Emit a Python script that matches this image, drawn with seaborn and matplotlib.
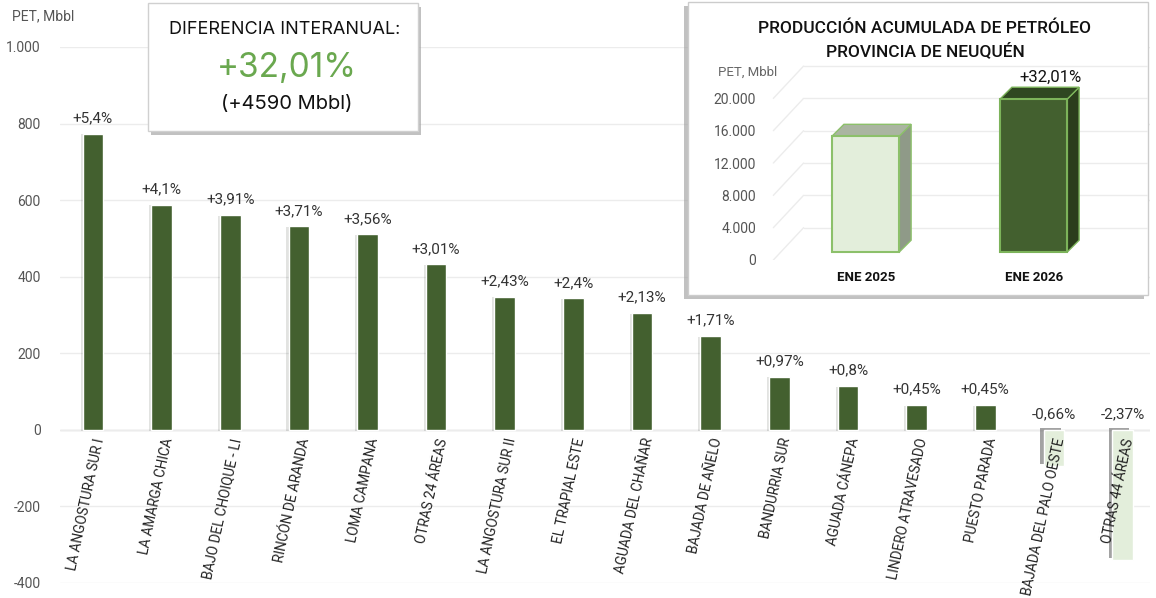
import numpy as np
import pandas as pd
import matplotlib
matplotlib.use("Agg")
import matplotlib.pyplot as plt
import matplotlib.patheffects as pe
from matplotlib.patches import Rectangle, Polygon
from matplotlib.ticker import FuncFormatter
import seaborn as sns

# --- datos ---
areas = ["LA ANGOSTURA SUR I", "LA AMARGA CHICA", "BAJO DEL CHOIQUE - LI", "RINCÓN DE ARANDA",
         "LOMA CAMPANA", "OTRAS 24 ÁREAS", "LA ANGOSTURA SUR II", "EL TRAPIAL ESTE",
         "AGUADA DEL CHAÑAR", "BAJADA DE AÑELO", "BANDURRIA SUR", "AGUADA CÁNEPA",
         "LINDERO ATRAVESADO", "PUESTO PARADA", "BAJADA DEL PALO OESTE", "OTRAS 44 ÁREAS"]
diff_mbbl = [774, 588, 561, 532, 511, 432, 348, 344, 305, 245, 139, 115, 65, 65, -95, -340]
pct_labels = ["+5,4%", "+4,1%", "+3,91%", "+3,71%", "+3,56%", "+3,01%", "+2,43%", "+2,4%",
              "+2,13%", "+1,71%", "+0,97%", "+0,8%", "+0,45%", "+0,45%", "-0,66%", "-2,37%"]
y_ticks = [-400, -200, 0, 200, 400, 600, 800, 1000]

periodos = ["ENE 2025", "ENE 2026"]
acumulada = [14339, 18929]
inset_ticks = [0, 4000, 8000, 12000, 16000, 20000]

DARK = "#43602f"
LIGHT = "#e3eedb"

def miles(v, pos=None):
    return f"{int(v):,}".replace(",", ".")

sns.set_theme(style="white")
plt.rcParams["font.family"] = ["Roboto", "DejaVu Sans"]

fig = plt.figure(figsize=(11.56, 5.98), dpi=100)
W, H = 1156, 598

# --- grafico principal ---
ax = fig.add_axes([60 / W, 1 - 583 / H, 1090 / W, 536 / H])
df = pd.DataFrame({"area": areas, "diff": diff_mbbl})
colores = [DARK if v >= 0 else LIGHT for v in diff_mbbl]
sns.barplot(data=df, x="area", y="diff", hue="area", palette=colores, legend=False,
            width=0.3, ax=ax, saturation=1)
for p, v in zip(ax.patches, diff_mbbl):
    if v >= 0:
        p.set_path_effects([pe.SimplePatchShadow(offset=(-1.5, -0.5), alpha=0.12), pe.Normal()])
    else:
        p.set_path_effects([pe.SimplePatchShadow(offset=(-2.5, 1.5), shadow_rgbFace="#666666", alpha=0.6),
                            pe.Normal()])

ax.set_ylim(-400, 1000)
ax.set_xlim(-0.48, 15.4)
ax.set_yticks(y_ticks)
ax.yaxis.set_major_formatter(FuncFormatter(miles))
ax.tick_params(axis="y", length=0, pad=14, labelsize=10, labelcolor="#555555")
ax.set_xticks([])
ax.set_xlabel("")
ax.set_ylabel("")
ax.grid(axis="y", color="#ececec", linewidth=1)
ax.set_axisbelow(True)
for s in ax.spines.values():
    s.set_visible(False)
ax.axhline(0, color="#d9d9d9", linewidth=1, zorder=0.5)

for i, (v, t) in enumerate(zip(diff_mbbl, pct_labels)):
    ax.annotate(t, (i, max(v, 0)), xytext=(0, 6), textcoords="offset points",
                ha="center", va="bottom", fontsize=11, color="#333333")
    ax.text(i + 0.1, -22, areas[i], rotation=78, rotation_mode="anchor",
            ha="right", va="center", fontsize=9.8, color="#222222")

fig.text(12 / W, 1 - 16 / H, "PET, Mbbl", fontsize=10, color="#555555", va="center")

# --- recuadro diferencia interanual ---
sombra = [pe.SimplePatchShadow(offset=(2, -3), shadow_rgbFace="#999999", alpha=0.6), pe.Normal()]
box1 = Rectangle((148 / W, 1 - 131 / H), 270 / W, 128 / H, transform=fig.transFigure,
                 facecolor="white", edgecolor="#d0d0d0", linewidth=1, zorder=2)
box1.set_path_effects(sombra)
fig.patches.append(box1)
fig.text(285 / W, 1 - 30 / H, "DIFERENCIA INTERANUAL:", ha="center", va="center",
         fontsize=13, color="#111111", zorder=4, family=["Inter", "DejaVu Sans"])
fig.text(287 / W, 1 - 68 / H, "+32,01%", ha="center", va="center",
         fontsize=24, color="#6aa84f", zorder=4, family=["Inter", "DejaVu Sans"])
fig.text(287 / W, 1 - 104 / H, "(+4590 Mbbl)", ha="center", va="center",
         fontsize=14.5, color="#111111", zorder=4, family=["Inter", "DejaVu Sans"])

# --- recuadro produccion acumulada ---
box2 = Rectangle((688 / W, 1 - 295 / H), 460 / W, 293 / H, transform=fig.transFigure,
                 facecolor="white", edgecolor="#cccccc", linewidth=1, zorder=2)
box2.set_path_effects([pe.SimplePatchShadow(offset=(-3, -3), shadow_rgbFace="#999999", alpha=0.6),
                       pe.Normal()])
fig.patches.append(box2)
fig.text(925 / W, 1 - 28 / H, "PRODUCCIÓN ACUMULADA DE PETRÓLEO", ha="center", va="center",
         fontsize=12.5, fontweight="medium", color="#111111", zorder=4)
fig.text(925 / W, 1 - 51 / H, "PROVINCIA DE NEUQUÉN", ha="center", va="center",
         fontsize=12.5, fontweight="medium", color="#111111", zorder=4)
fig.text(748 / W, 1 - 72 / H, "PET, Mbbl", ha="center", va="center",
         fontsize=9.5, color="#666666", zorder=4)

ax2 = fig.add_axes([770 / W, 1 - 260 / H, 378 / W, 198 / H], zorder=3)
ax2.patch.set_alpha(0)
dfi = pd.DataFrame({"periodo": periodos, "valor": acumulada})
sns.barplot(data=dfi, x="periodo", y="valor", hue="periodo", palette=[LIGHT, DARK],
            legend=False, width=0.4, ax=ax2, saturation=1, zorder=3)
ax2.set_xlim(-0.57, 1.68)
ax2.set_ylim(0, 24500)
ax2.set_yticks(inset_ticks)
ax2.yaxis.set_major_formatter(FuncFormatter(miles))
ax2.tick_params(axis="y", length=0, pad=10, labelsize=10, labelcolor="#555555")
ax2.tick_params(axis="x", length=0, pad=8)
for lbl in ax2.get_xticklabels():
    lbl.set_fontweight("bold")
    lbl.set_fontsize(9.5)
    lbl.set_color("#111111")
ax2.set_xlabel("")
ax2.set_ylabel("")
for s in ax2.spines.values():
    s.set_visible(False)

# rejilla en perspectiva
for t in inset_ticks:
    ax2.plot([-0.55, -0.37], [t, t + 4000], color="#ececec", lw=1, zorder=1)
    ax2.plot([-0.37, 1.68], [t + 4000, t + 4000], color="#ececec", lw=1, zorder=1)

# efecto 3D (piso elevado por la perspectiva)
piso = 1000
bordes = ["#8cc06a", "#7cb35a"]
laterales = ["#8f9a88", "#2b3d1c"]
techos = ["#aab5a1", "#2f4721"]
dx, dy = 0.07, 1450
for p, ec, sc, tc in zip(ax2.patches, bordes, laterales, techos):
    x0, w, h = p.get_x(), p.get_width(), p.get_height()
    p.set_y(piso)
    top = piso + h
    p.set_edgecolor(ec)
    p.set_linewidth(1.5)
    ax2.add_patch(Polygon([(x0 + w, piso), (x0 + w + dx, piso + dy), (x0 + w + dx, top + dy), (x0 + w, top)],
                          closed=True, facecolor=sc, edgecolor=ec, lw=1, zorder=2.5))
    ax2.add_patch(Polygon([(x0, top), (x0 + dx, top + dy), (x0 + w + dx, top + dy), (x0 + w, top)],
                          closed=True, facecolor=tc, edgecolor=ec, lw=1, zorder=2.5))

ax2.annotate("+32,01%", (1 + 0.1, piso + acumulada[1] + dy), xytext=(0, 2), textcoords="offset points",
             ha="center", va="bottom", fontsize=12, color="#111111")

fig.savefig("out.png", dpi=100)
